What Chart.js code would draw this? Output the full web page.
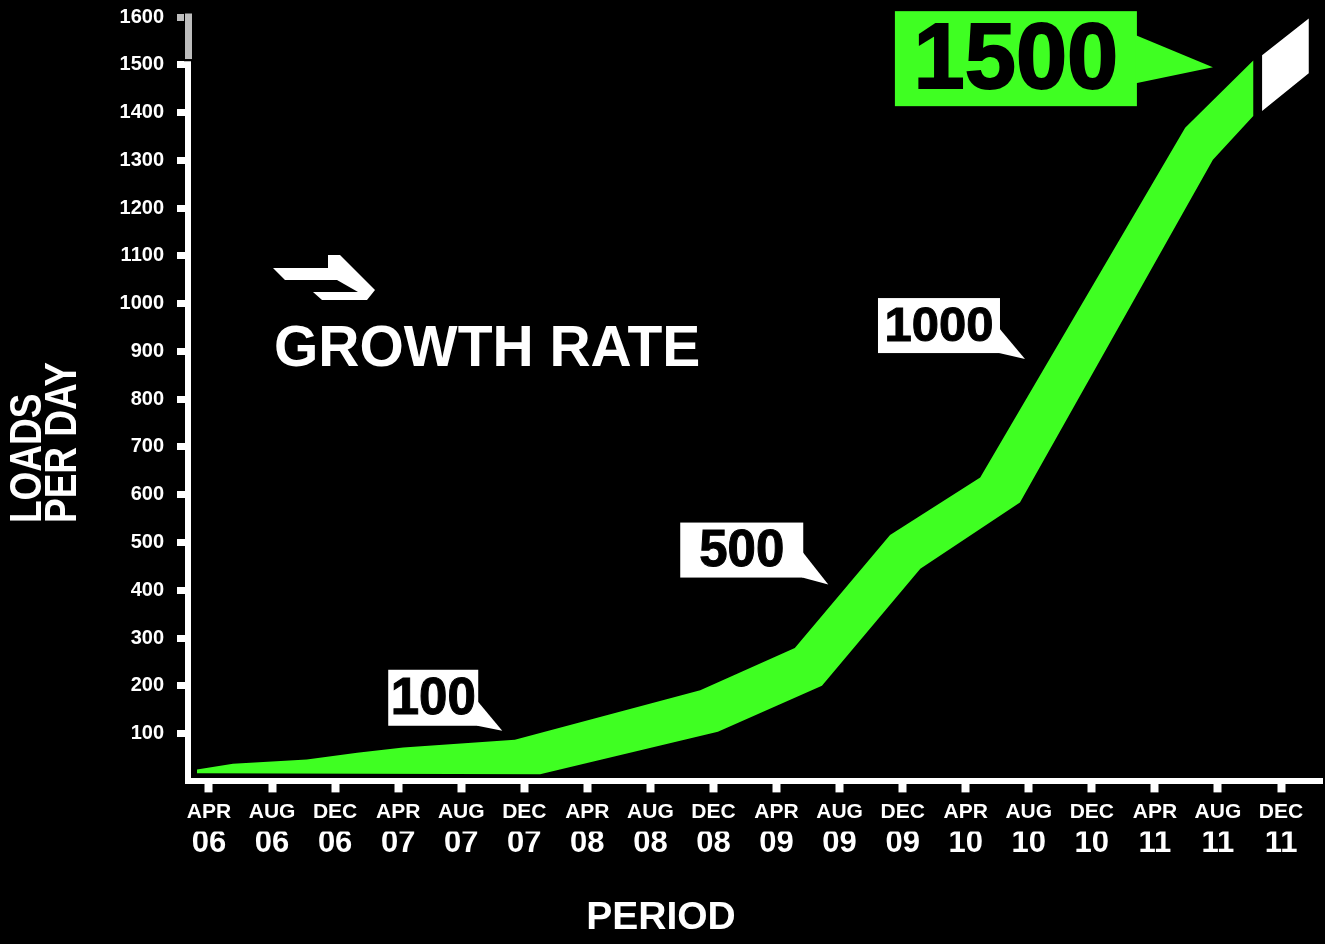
<!DOCTYPE html>
<html>
<head>
<meta charset="utf-8">
<title>Growth rate</title>
<script src="https://cdn.jsdelivr.net/npm/chart.js@4.4.1/dist/chart.umd.min.js"></script>
<style>
  html, body { margin: 0; padding: 0; background: #000; }
  #wrap { width: 1325px; height: 944px; }
</style>
</head>
<body>
<div id="wrap"><canvas id="growthChart"></canvas></div>
<script>
// periods on the x axis (index 0 = APR 06)
const months = ['APR', 'AUG', 'DEC', 'APR', 'AUG', 'DEC', 'APR', 'AUG', 'DEC',
                'APR', 'AUG', 'DEC', 'APR', 'AUG', 'DEC', 'APR', 'AUG', 'DEC'];
const years = ['06', '06', '06', '07', '07', '07', '08', '08', '08',
               '09', '09', '09', '10', '10', '10', '11', '11', '11'];
const yTicks = [100, 200, 300, 400, 500, 600, 700, 800, 900, 1000, 1100, 1200, 1300, 1400, 1500, 1600];

// green band, [period index, loads per day]
const upperEdge = [[-0.19, 25], [0.38, 37], [1.55, 46], [2.35, 60], [3.08, 71], [4.85, 87],
                   [7.79, 191], [9.29, 279], [10.80, 516], [12.23, 636], [15.48, 1368], [16.56, 1509]];
const lowerEdge = [[-0.19, 17], [5.25, 15], [8.07, 104], [9.72, 200], [11.28, 445],
                   [12.86, 584], [15.92, 1301], [16.56, 1393]];
// white projected piece at the end
const projectedTip = [[16.70, 1520], [17.44, 1597], [17.44, 1482], [16.70, 1403]];

const calloutLabels = ['100', '500', '1000', '1500'];
const yTitle = ['LOADS', 'PER DAY'];

const GREEN = '#3fff22';
const WHITE = '#ffffff';
const GREY = '#bdbdbd';
const SANS = "'Liberation Sans', Arial, sans-serif";

// where each callout points (data units) and how its box sits round that point (px)
const calloutLayout = [
  { at: [4.65, 106], dx: -114, dy: -61, w: 90, h: 56, tail: [31, 56], size: 51, bg: WHITE },
  { at: [9.82, 412], dx: -148, dy: -62, w: 123, h: 55, tail: [29, 55], size: 51, bg: WHITE },
  { at: [12.94, 884], dx: -147, dy: -61, w: 122, h: 55, tail: [30, 55], size: 49, bg: WHITE },
  { at: [15.92, 1495], dx: -318, dy: -56, w: 242, h: 95, tail: [24, 72], size: 92, bg: GREEN }
];

const toPoints = arr => arr.map(p => ({ x: p[0], y: p[1] }));
const bandShape = toPoints(upperEdge).concat(toPoints(lowerEdge.slice().reverse()));

const decorPlugin = {
  id: 'decor',
  afterDraw(chart) {
    const { ctx, scales: { x, y } } = chart;
    ctx.save();

    // broken top of the y axis: grey piece above 1500
    const bx = chart.chartArea.left;
    const y16 = y.getPixelForValue(1600), y15 = y.getPixelForValue(1500);
    ctx.fillStyle = '#000';
    ctx.fillRect(bx - 4, y16 - 6, 9, y15 - 3.5 - y16 + 6);
    ctx.fillStyle = GREY;
    ctx.fillRect(bx - 3, y16 - 3.5, 7, y.getPixelForValue(1512) - y16 + 3.5);

    // y axis title, squeezed like a condensed face
    ctx.fillStyle = WHITE;
    ctx.font = 'bold 44px ' + SANS;
    ctx.textAlign = 'left';
    ctx.textBaseline = 'alphabetic';
    [41, 76].forEach((tx, i) => {
      ctx.save();
      ctx.translate(tx, 523);
      ctx.rotate(-Math.PI / 2);
      ctx.scale(0.84, 1);
      ctx.fillText(yTitle[i], 0, 0);
      ctx.restore();
    });

    // growth rate heading with its arrow mark
    ctx.font = 'bold 57px ' + SANS;
    ctx.fillText('GROWTH RATE', 274, 366);
    const icon = [[273, 268], [328, 268], [328, 255], [340, 255], [375, 290], [367, 300],
                  [322, 300], [313, 292], [358, 292], [337, 280], [285, 280]];
    ctx.beginPath();
    icon.forEach((p, i) => i ? ctx.lineTo(p[0], p[1]) : ctx.moveTo(p[0], p[1]));
    ctx.closePath();
    ctx.fill();

    // callouts
    calloutLayout.forEach((c, i) => {
      const tx = x.getPixelForValue(c.at[0]);
      const ty = y.getPixelForValue(c.at[1]);
      const left = tx + c.dx, top = ty + c.dy;
      const right = left + c.w;
      ctx.fillStyle = c.bg;
      ctx.fillRect(left, top, c.w, c.h);
      ctx.beginPath();
      ctx.moveTo(right - 1, top + c.tail[0]);
      ctx.lineTo(tx, ty);
      ctx.lineTo(right - 1, top + c.tail[1]);
      ctx.closePath();
      ctx.fill();
      ctx.fillStyle = '#000';
      ctx.strokeStyle = '#000';
      ctx.lineWidth = c.size / 50;
      ctx.font = 'bold ' + c.size + 'px ' + SANS;
      ctx.textAlign = 'center';
      ctx.textBaseline = 'middle';
      ctx.fillText(calloutLabels[i], left + c.w / 2, top + c.h / 2 + c.size * 0.04);
      ctx.strokeText(calloutLabels[i], left + c.w / 2, top + c.h / 2 + c.size * 0.04);
    });
    ctx.restore();
  }
};

const xMin = -0.333, xMax = 17.65;

new Chart(document.getElementById('growthChart'), {
  type: 'line',
  data: {
    datasets: [
      { data: bandShape, fill: 'shape', backgroundColor: GREEN, borderWidth: 0, borderColor: 'transparent', pointRadius: 0, tension: 0 },
      { data: toPoints(projectedTip), fill: 'shape', backgroundColor: WHITE, borderWidth: 0, borderColor: 'transparent', pointRadius: 0, tension: 0 }
    ]
  },
  options: {
    responsive: true,
    maintainAspectRatio: false,
    animation: false,
    events: [],
    layout: { padding: { top: 17, right: 3, left: 0, bottom: 0 } },
    plugins: {
      legend: { display: false },
      tooltip: { enabled: false },
      title: {
        display: true,
        position: 'bottom',
        text: 'PERIOD',
        color: WHITE,
        font: { family: SANS, weight: 'bold', size: 39 },
        padding: { top: 39, bottom: 2 }
      }
    },
    scales: {
      x: {
        type: 'linear',
        position: 'bottom',
        min: xMin,
        max: xMax,
        border: { color: WHITE, width: 6 },
        grid: { drawOnChartArea: false, tickLength: 11, tickWidth: 8, tickColor: WHITE },
        ticks: {
          stepSize: 1, includeBounds: false, autoSkip: false, maxRotation: 0,
          padding: 9, color: WHITE,
          font: { family: SANS, weight: 'bold', size: 21, lineHeight: 1 },
          callback: v => months[v] ?? ''
        }
      },
      x2: {
        type: 'linear',
        position: 'bottom',
        weight: 1,
        min: xMin,
        max: xMax,
        border: { display: false },
        grid: { display: false, drawTicks: false },
        ticks: {
          stepSize: 1, includeBounds: false, autoSkip: false, maxRotation: 0,
          padding: 0, color: WHITE,
          font: { family: SANS, weight: 'bold', size: 31, lineHeight: 0.8 },
          callback: v => years[v] ?? ''
        }
      },
      y: {
        min: 0,
        max: 1600,
        border: { color: WHITE, width: 6 },
        grid: {
          drawOnChartArea: false, tickLength: 11, tickWidth: 7,
          tickColor: c => c.tick.value === 1600 ? GREY : (c.tick.value === 0 ? 'transparent' : WHITE)
        },
        afterBuildTicks: s => { s.ticks = [0].concat(yTicks).map(v => ({ value: v })); },
        ticks: {
          padding: 13, color: WHITE,
          font: { family: SANS, weight: 'bold', size: 20 },
          callback: v => yTicks.includes(v) ? String(v) : ''
        },
        afterFit: s => { s.width = 188; s.paddingTop = 0; s.paddingBottom = 0; }
      }
    }
  },
  plugins: [decorPlugin]
});
</script>
</body>
</html>
